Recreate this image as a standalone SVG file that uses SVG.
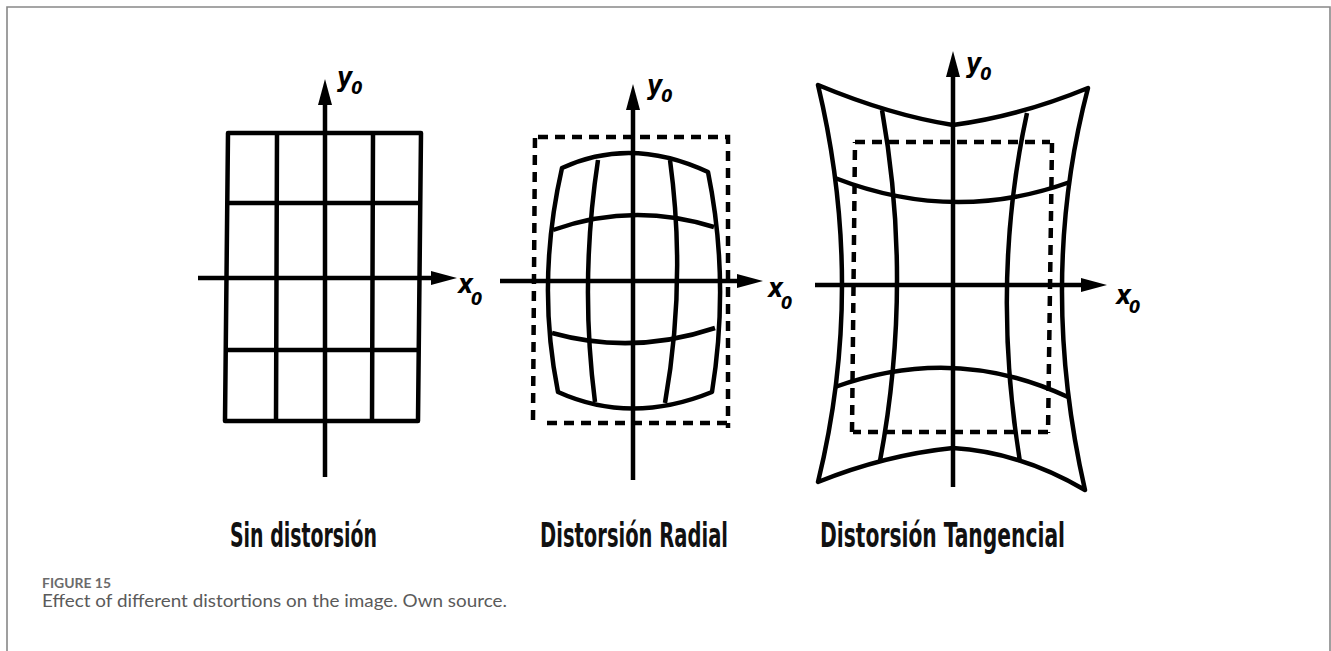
<svg xmlns="http://www.w3.org/2000/svg" width="1331" height="651" viewBox="0 0 1331 651">
<style>
.ln{fill:none;stroke:#000;stroke-width:4.5;stroke-linejoin:round;stroke-linecap:butt}
.ax{fill:none;stroke:#000;stroke-width:4.5}
.dash{fill:none;stroke:#000;stroke-width:4.5;stroke-dasharray:10 7}
.lab{font-family:"DejaVu Sans","Noto Sans",sans-serif;font-stretch:condensed;font-weight:bold;font-size:34px;fill:#111}
.sym{font-family:"DejaVu Sans","Noto Sans",sans-serif;font-stretch:condensed;font-style:italic;font-weight:bold;font-size:26px;fill:#000}
.sub{font-size:18px}
.fig{font-family:Lato,"Open Sans",sans-serif;font-weight:bold;font-size:12.5px;fill:#6b6b6b}
.cap{font-family:Lato,"Open Sans",sans-serif;font-size:16.5px;fill:#5a5a5a}
</style>
<defs>
<marker id="ah" markerUnits="userSpaceOnUse" markerWidth="26" markerHeight="14" refX="1" refY="7" orient="auto">
<path d="M0,0 L26,7 L0,14 Z" fill="#000"/>
</marker>
</defs>
<path d="M7,651 L7,7 L1330,7 L1330,651" fill="none" stroke="#888" stroke-width="1.6"/>

<g id="panel-sin">
<path class="ln" d="M228,133 L421,133 L418,421 L225,421 Z"/>
<path class="ln" d="M277,133 L276,421 M373,133 L372,421 M227,203 L420,203 M226,350 L419,350"/>
</g>

<g id="panel-radial">
<path class="dash" d="M538,137 L728,137 L728,428 M727,423 L547,423 M533,420 L535,135"/>
<path class="ln" d="M562,168 Q631,136 708,172 Q730,280 712,392 Q631,425 558,392 Q536,282 562,168 Z"/>
<path class="ln" d="M553,230 Q632.5,201.5 714,227 M552,333 Q633,355.5 715,328"/>
<path class="ln" d="M598,160 Q579.5,282 595,402 M670,160 Q686.5,281 665,403"/>
</g>

<g id="panel-tangencial">
<path class="dash" d="M855,142 L1050,142 M1052,143 L1048,433 M1048,432 L853,432 M852,432 L855,142"/>
<path class="ln" d="M818,85 Q890,115 953,125 Q1020,116 1088,88 Q1037.5,281 1085,490 Q1020,452 953,448 Q885,455 818,482 Q866,286.5 818,85 Z"/>
<path class="ln" d="M835,178 Q953.5,224 1070,182 M835,387 Q954.5,344 1068,397"/>
<path class="ln" d="M882,110 Q913,284.5 880,461 M1027,113 Q990.5,281 1020,462"/>
</g>

<g id="connectors">
<line class="ax" x1="325" y1="477" x2="325" y2="104" marker-end="url(#ah)"/>
<line class="ax" x1="198" y1="278" x2="432" y2="278" marker-end="url(#ah)"/>
<line class="ax" x1="633" y1="480" x2="633" y2="109" marker-end="url(#ah)"/>
<line class="ax" x1="500" y1="281" x2="738" y2="281" marker-end="url(#ah)"/>
<line class="ax" x1="953" y1="487" x2="953" y2="76" marker-end="url(#ah)"/>
<line class="ax" x1="815" y1="285" x2="1082" y2="285" marker-end="url(#ah)"/>
</g>

<g id="axis-labels">
<text class="sym" x="337" y="86">y<tspan class="sub" dx="-1" dy="8">0</tspan></text>
<text class="sym" x="458" y="293">x<tspan class="sub" dx="-2" dy="12">0</tspan></text>
<text class="sym" x="647" y="94">y<tspan class="sub" dx="-1" dy="8">0</tspan></text>
<text class="sym" x="768" y="297">x<tspan class="sub" dx="-2" dy="12">0</tspan></text>
<text class="sym" x="966" y="72">y<tspan class="sub" dx="-1" dy="8">0</tspan></text>
<text class="sym" x="1116" y="304">x<tspan class="sub" dx="-2" dy="9">0</tspan></text>
</g>

<g id="titles">
<text class="lab" x="230" y="547" textLength="147" lengthAdjust="spacingAndGlyphs">Sin distorsión</text>
<text class="lab" x="540" y="547" textLength="188" lengthAdjust="spacingAndGlyphs">Distorsión Radial</text>
<text class="lab" x="820" y="547" textLength="245" lengthAdjust="spacingAndGlyphs">Distorsión Tangencial</text>
</g>

<g id="caption">
<text class="fig" x="42" y="588" textLength="69" lengthAdjust="spacingAndGlyphs">FIGURE 15</text>
<text class="cap" x="42" y="607" textLength="465" lengthAdjust="spacingAndGlyphs">Effect of different distortions on the image. Own source.</text>
</g>
</svg>
